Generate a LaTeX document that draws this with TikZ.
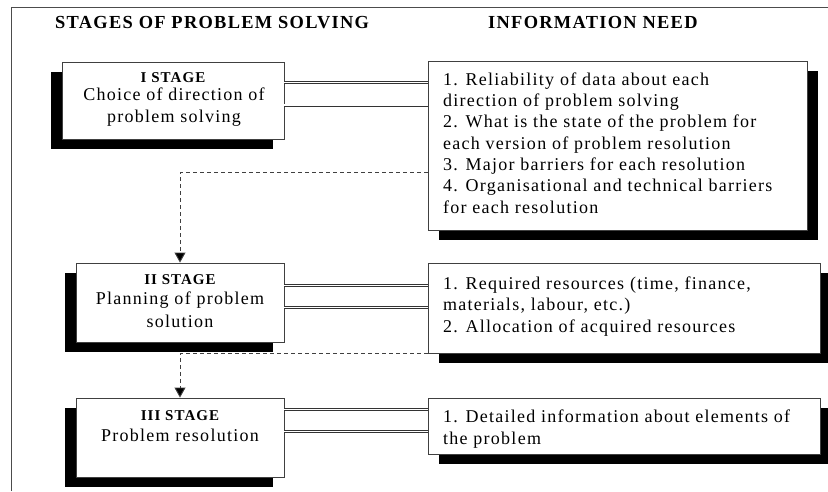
\documentclass[tikz,border=0pt]{standalone}
\usepackage{fontspec}
\setmainfont{Liberation Serif}[LetterSpace=7]
\usetikzlibrary{arrows.meta,shadows,calc}

\tikzset{
  frameline/.style={draw=black!70, line width=0.9pt},
  boxbase/.style={draw=black!75, line width=0.9pt, fill=white, inner sep=0pt, rectangle},
  stagebox/.style={boxbase, general shadow={fill=black, shadow xshift=-11pt, shadow yshift=-10pt}},
  infobox/.style={boxbase, general shadow={fill=black, shadow xshift=11pt, shadow yshift=-10pt}},
  headtext/.style={inner sep=0pt, font=\fontsize{18.4}{22}\selectfont\bfseries},
  stagelabel/.style={inner sep=0pt, font=\fontsize{15}{17}\selectfont\bfseries},
  stagetext/.style={inner sep=0pt, align=center, font=\fontsize{18}{22.5}\selectfont},
  infotext/.style={inner sep=0pt, align=left, font=\fontsize{18}{21.3}\selectfont},
  link/.style={draw=black!80, line width=0.8pt, double=white, double distance=1.3pt},
  flow/.style={draw=black!75, line width=0.9pt, dash pattern=on 4pt off 3pt,
    -{Triangle[width=11pt,length=10pt,fill=black]}},
}

\begin{document}
\begin{tikzpicture}[x=1pt, y=-1pt]
  \useasboundingbox (0,0) rectangle (828,491);

  % outer frame (only top and left edges fall inside the page)
  \coordinate (fbl) at (11,491);
  \coordinate (ftl) at (11,7);
  \coordinate (ftr) at (828,7);
  \draw[frameline] (fbl) -- (ftl) -- (ftr);

  % column headings
  \node[headtext, anchor=base west] (hstages) at (55,28) {STAGES OF PROBLEM SOLVING};
  \node[headtext, anchor=base west] (hinfo) at (488,28) {INFORMATION NEED};

  % stage boxes
  \node[stagebox, minimum width=222pt, minimum height=77pt] (s1) at (173,100.5) {};
  \node[stagebox, minimum width=208pt, minimum height=79pt] (s2) at (180,302.5) {};
  \node[stagebox, minimum width=208pt, minimum height=79pt] (s3) at (180,437.5) {};

  % information boxes
  \node[infobox, minimum width=379pt, minimum height=169pt] (i1) at (617.5,145.5) {};
  \node[infobox, minimum width=392pt, minimum height=90pt] (i2) at (624,308) {};
  \node[infobox, minimum width=392pt, minimum height=56pt] (i3) at (624,426) {};

  % stage texts (multi-line nodes sit on the baseline of their last line)
  \node[stagelabel, anchor=base] (l1) at (173,82.7) {I STAGE};
  \node[stagetext, anchor=base] (b1) at (174,122.5) {Choice of direction of\\problem solving};
  \node[stagelabel, anchor=base] (l2) at (180,284) {II STAGE};
  \node[stagetext, anchor=base] (b2) at (180,327) {Planning of problem\\solution};
  \node[stagelabel, anchor=base] (l3) at (180,420) {III STAGE};
  \node[stagetext, anchor=base] (b3) at (180,441.7) {Problem resolution};

  % information texts
  \node[infotext, anchor=base west] (n1) at (443,213) {1. Reliability of data about each\\
    direction of problem solving\\
    2. What is the state of the problem for\\
    each version of problem resolution\\
    3. Major barriers for each resolution\\
    4. Organisational and technical barriers\\
    for each resolution};
  \node[infotext, anchor=base west] (n2) at (443,332) {1. Required resources (time, finance,\\
    materials, labour, etc.)\\
    2. Allocation of acquired resources};
  \node[infotext, anchor=base west] (n3) at (443,444) {1. Detailed information about elements of\\
    the problem};

  % double links between each stage and its information need,
  % given as offsets below the top edge of the stage box
  \foreach \s/\i/\da/\db in {s1/i1/21/43.5, s2/i2/23/45, s3/i3/12/34}{
    \coordinate (\s-a) at ($(\s.north east)+(0,\da)$);
    \coordinate (\s-b) at ($(\s.north east)+(0,\db)$);
    \draw[link] (\s-a) -- (\s-a -| \i.west);
    \draw[link] (\s-b) -- (\s-b -| \i.west);
  }

  % dashed flow to the next stage
  \coordinate (d1) at ($(i1.north west)+(0,112)$);
  \draw[flow] (d1) -| (s2.north);
  \draw[flow] (i2.south west) -| (s3.north);
\end{tikzpicture}
\end{document}
